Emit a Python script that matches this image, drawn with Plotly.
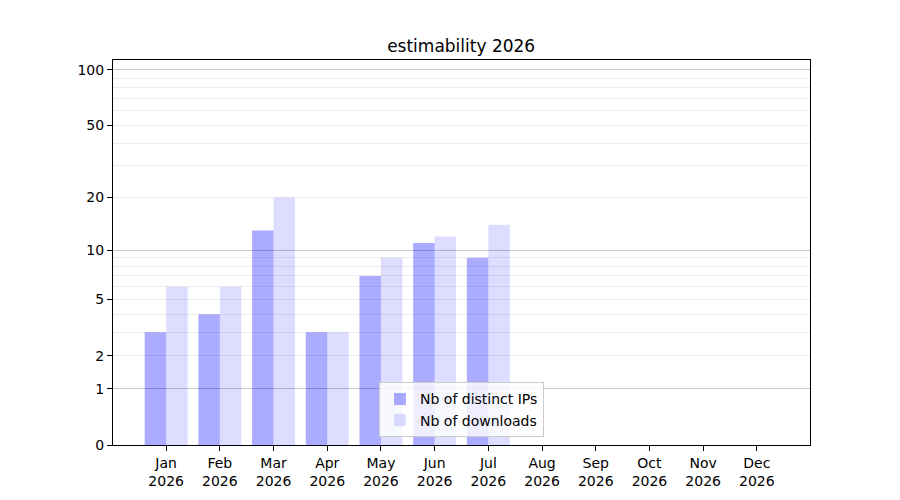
import math
import plotly.graph_objects as go

# Monthly stats (Aug-Dec empty)
months = ['Jan', 'Feb', 'Mar', 'Apr', 'May', 'Jun', 'Jul', 'Aug', 'Sep', 'Oct', 'Nov', 'Dec']
year = 2026
distinct_ips = [3, 4, 13, 3, 7, 11, 9, 0, 0, 0, 0, 0]
downloads = [6, 6, 20, 3, 9, 12, 14, 0, 0, 0, 0, 0]

# y axis ticks
ytick_values = [0, 1, 2, 5, 10, 20, 50, 100]
major_grid = [1, 10, 100]
minor_grid = [2, 3, 4, 5, 6, 7, 8, 9, 20, 30, 40, 50, 60, 70, 80, 90]
y_top = 113


def fwd(v):
    # scale used by the original: log10(1 + v)
    return math.log10(1 + v)


x = list(range(len(months)))
tick_text = [f"{m}<br>{year}" for m in months]

fig = go.Figure()
fig.add_trace(go.Bar(
    name='Nb of distinct IPs',
    x=x, y=[fwd(v) for v in distinct_ips],
    customdata=distinct_ips,
    marker=dict(color='rgba(0,0,255,0.33)', line=dict(width=0)),
    hovertemplate='%{customdata}<extra>Nb of distinct IPs</extra>',
))
fig.add_trace(go.Bar(
    name='Nb of downloads',
    x=x, y=[fwd(v) for v in downloads],
    customdata=downloads,
    marker=dict(color='rgba(0,0,255,0.135)', line=dict(width=0)),
    hovertemplate='%{customdata}<extra>Nb of downloads</extra>',
))

# page has an 8px body margin, so margins are shifted by that amount
fig.update_layout(
    width=900, height=500,
    margin=dict(l=105, r=98, t=52, b=63),
    paper_bgcolor='white', plot_bgcolor='white',
    font=dict(family='DejaVu Sans', size=14, color='black'),
    barmode='group', bargap=0.2, bargroupgap=0,
    title=dict(text='estimability 2026', x=0.5035, xanchor='center',
               yref='container', y=0.924, yanchor='middle',
               font=dict(size=17, color='black')),
    showlegend=True,
    legend=dict(x=0.5, xanchor='center', y=0.02, yanchor='bottom',
                bgcolor='rgba(255,255,255,0.8)', bordercolor='#cccccc', borderwidth=1,
                font=dict(size=14), tracegroupgap=0),
)

fig.update_xaxes(
    range=[-0.99, len(months) - 0.01],
    tickvals=x, ticktext=tick_text,
    showgrid=False, zeroline=False,
    showline=True, mirror=True, linecolor='black', linewidth=1,
    ticks='outside', ticklen=5, tickcolor='black',
)
fig.update_yaxes(
    range=[0, fwd(y_top)],
    tickvals=[fwd(v) for v in ytick_values],
    ticktext=[str(v) for v in ytick_values],
    showgrid=False, zeroline=False,
    showline=True, mirror=True, linecolor='black', linewidth=1,
    ticks='outside', ticklen=5, tickcolor='black',
    minor=dict(tickvals=[fwd(v) for v in minor_grid], showgrid=True,
               gridcolor='#ececec', gridwidth=1, ticks=''),
)

# second y axis only for the darker major grid lines
fig.update_layout(yaxis2=dict(
    overlaying='y', range=[0, fwd(y_top)],
    tickvals=[fwd(v) for v in major_grid], showticklabels=False,
    showgrid=True, gridcolor='#c8c8c8', gridwidth=1,
    zeroline=False, showline=False, ticks='',
))
fig.add_trace(go.Scatter(x=[None], y=[None], yaxis='y2', showlegend=False, hoverinfo='skip'))

fig.write_html("out.html")
